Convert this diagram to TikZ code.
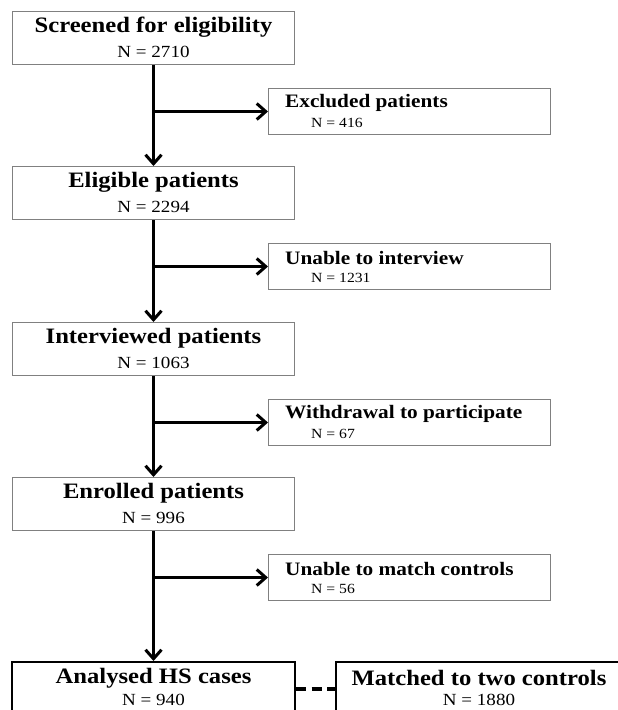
\documentclass[tikz,border=0pt]{standalone}
\usepackage{fontspec}
\setmainfont[FakeStretch=1.12]{Liberation Serif}
\usetikzlibrary{arrows.meta}

\tikzset{
  mainbox/.style={draw=gray, line width=1pt, minimum width=282pt, minimum height=53pt, inner sep=0pt, anchor=north west},
  sidebox/.style={draw=gray, line width=1pt, minimum width=282pt, minimum height=46pt, inner sep=0pt, anchor=north west},
  lastbox/.style={draw=black, line width=2pt, minimum width=283pt, minimum height=53pt, inner sep=0pt, anchor=north west},
  maintitle/.style={inner sep=0pt, font=\fontsize{22}{25}\selectfont\bfseries},
  mainnum/.style={inner sep=0pt, font=\fontsize{17}{20}\selectfont},
  sidetitle/.style={inner sep=0pt, anchor=west, font=\fontsize{19}{22}\selectfont\bfseries},
  sidenum/.style={inner sep=0pt, anchor=west, font=\fontsize{14}{16}\selectfont},
  flow/.style={line width=3pt, -{Straight Barb[length=9pt, width=16pt, line width=3pt]}},
  pairline/.style={line width=4pt, dash pattern=on 10pt off 5.5pt}
}

\begin{document}
\begin{tikzpicture}[x=1pt, y=-1pt]

\useasboundingbox (0,0) rectangle (618,710);
\clip (0,0) rectangle (618,710);  %最下面两个框被图的底边截断

%左边一列主框
\node[mainbox] (s1) at (12,11) {};
\node[mainbox] (s2) at (12,166) {};
\node[mainbox] (s3) at (12,322) {};
\node[mainbox] (s4) at (12,477) {};
\node[lastbox] (s5) at (11,661) {};
%右边的框:每一步去掉的病人
\node[sidebox] (x1) at (268,88) {};
\node[sidebox] (x2) at (268,243) {};
\node[sidebox] (x3) at (268,399) {};
\node[sidebox] (x4) at (268,554) {};
%右下角的对照框
\node[lastbox, minimum width=286pt] (m5) at (335,661) {};

%主框里的字
\node[maintitle] (s1t) at ([yshift=-16pt]s1.north) {Screened for eligibility};
\node[mainnum] (s1n) at ([yshift=-41pt]s1.north) {N = 2710};
\node[maintitle] (s2t) at ([yshift=-16pt]s2.north) {Eligible patients};
\node[mainnum] (s2n) at ([yshift=-41pt]s2.north) {N = 2294};
\node[maintitle] (s3t) at ([yshift=-16pt]s3.north) {Interviewed patients};
\node[mainnum] (s3n) at ([yshift=-41pt]s3.north) {N = 1063};
\node[maintitle] (s4t) at ([yshift=-16pt]s4.north) {Enrolled patients};
\node[mainnum] (s4n) at ([yshift=-41pt]s4.north) {N = 996};
\node[maintitle] (s5t) at ([yshift=-17pt]s5.north) {Analysed HS cases};
\node[mainnum] (s5n) at ([yshift=-39pt]s5.north) {N = 940};
\node[maintitle] (m5t) at ([yshift=-17pt]m5.north) {Matched to two controls};
\node[mainnum] (m5n) at ([yshift=-39pt]m5.north) {N = 1880};

%右边框里的字
\node[sidetitle] (x1t) at ([xshift=17pt,yshift=-15pt]x1.north west) {Excluded patients};
\node[sidenum] (x1n) at ([xshift=43pt,yshift=-35pt]x1.north west) {N = 416};
\node[sidetitle] (x2t) at ([xshift=17pt,yshift=-15pt]x2.north west) {Unable to interview};
\node[sidenum] (x2n) at ([xshift=43pt,yshift=-35pt]x2.north west) {N = 1231};
\node[sidetitle] (x3t) at ([xshift=17pt,yshift=-15pt]x3.north west) {Withdrawal to participate};
\node[sidenum] (x3n) at ([xshift=43pt,yshift=-35pt]x3.north west) {N = 67};
\node[sidetitle] (x4t) at ([xshift=17pt,yshift=-15pt]x4.north west) {Unable to match controls};
\node[sidenum] (x4n) at ([xshift=43pt,yshift=-35pt]x4.north west) {N = 56};

%向下的箭头
\draw[flow] (s1.south) -- (s2.north);
\draw[flow] (s2.south) -- (s3.north);
\draw[flow] (s3.south) -- (s4.north);
\draw[flow] (s4.south) -- (s5.north);
%向右的分支箭头
\draw[flow] (s1.south |- x1.west) -- (x1.west);
\draw[flow] (s2.south |- x2.west) -- (x2.west);
\draw[flow] (s3.south |- x3.west) -- (x3.west);
\draw[flow] (s4.south |- x4.west) -- (x4.west);
%病例和对照之间的虚线
\draw[pairline] (s5.east) -- (m5.west);

\end{tikzpicture}
\end{document}
